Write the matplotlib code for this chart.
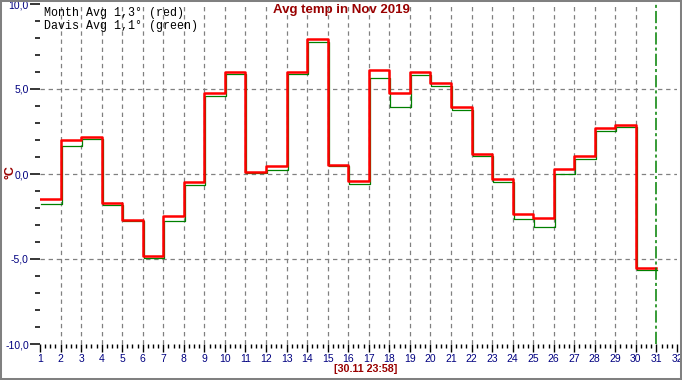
import matplotlib
matplotlib.use('Agg')
import matplotlib.pyplot as plt
from matplotlib import font_manager, ticker
from matplotlib.patches import Rectangle
from matplotlib.transforms import ScaledTranslation

# ---- data ----
days = list(range(1, 31))
month_avg = [-1.45, 2.0, 2.2, -1.73, -2.69, -4.8, -2.49, -0.47, 4.78, 6.02,
             0.13, 0.45, 6.02, 7.95, 0.55, -0.39, 6.12, 4.74, 6.0, 5.37,
             3.97, 1.19, -0.32, -2.37, -2.61, 0.27, 1.08, 2.7, 2.88, -5.5]
davis_avg = [-1.65, 1.75, 2.15, -1.75, -2.7, -4.85, -2.65, -0.58, 4.65, 5.96,
             0.13, 0.32, 5.96, 7.86, 0.58, -0.52, 5.73, 4.05, 5.94, 5.29,
             3.86, 1.12, -0.4, -2.58, -3.0, 0.1, 0.98, 2.64, 2.84, -5.55]
title = "Avg temp in Nov 2019"
legend_lines = ["Month Avg 1,3° (red)", "Davis Avg 1,1° (green)"]
stamp = "[30.11 23:58]"
unit = "°C"
x_ticks = list(range(1, 33))
y_major = [-10, -5, 0, 5, 10]
y_grid = [-5, 0, 5]
now_day = 31

names = {f.name for f in font_manager.fontManager.ttflist}
narrow = 'Liberation Sans Narrow' if 'Liberation Sans Narrow' in names else 'Liberation Sans'

W, H = 682, 380
fig = plt.figure(figsize=(W / 100, H / 100), dpi=100)
fig.patch.set_facecolor('white')
ax = fig.add_axes([40 / W, 1 - 344 / H, 637 / W, 340 / H])

xs = days + [days[-1] + 1]
green_shift = ax.transData + ScaledTranslation(1.0 / 100, -1.5 / 100, fig.dpi_scale_trans)
ax.plot(xs, davis_avg + [davis_avg[-1]], drawstyle='steps-post', color='#008000',
        lw=0.9, zorder=3, transform=green_shift)
ax.plot(xs, month_avg + [month_avg[-1]], drawstyle='steps-post', color='#ff0000',
        lw=1.8, zorder=4)

ax.set_xlim(1, 32)
ax.set_ylim(-10, 10)

for d in x_ticks[1:-2]:
    ax.axvline(d, color='#808080', lw=0.9, dashes=(3.5, 3), zorder=1)
for v in y_grid:
    ax.axhline(v, color='#808080', lw=0.9, dashes=(3.5, 3), zorder=1)
ax.axvline(now_day, color='#008000', lw=1.1, dashes=(8, 2, 2, 2), zorder=5)

for s in ax.spines.values():
    s.set_visible(False)

ax.set_xticks(x_ticks)
ax.xaxis.set_minor_locator(ticker.MultipleLocator(0.25))
ax.set_yticks(y_major)
ax.yaxis.set_minor_locator(ticker.MultipleLocator(1))
ax.yaxis.set_major_formatter(ticker.FuncFormatter(lambda v, p: f"{v:.1f}".replace('.', ',')))

ax.tick_params(axis='x', which='major', direction='out', length=5.8, width=1.0,
               color='black', labelcolor='#000080', labelsize=7.5, pad=1.5)
ax.tick_params(axis='x', which='minor', direction='out', length=2.6, width=1.0, color='black')
ax.tick_params(axis='y', which='major', direction='out', length=7.2, width=1.1,
               color='black', labelcolor='#000080', labelsize=7.5, pad=0.8)
ax.tick_params(axis='y', which='minor', direction='out', length=3.4, width=1.1, color='black')
for lab in ax.get_xticklabels() + ax.get_yticklabels():
    lab.set_fontfamily(narrow)

fig.text(44 / W, 1 - 13 / H, legend_lines[0], family='Liberation Mono', fontsize=8.4,
         va='center', ha='left', color='black')
fig.text(44 / W, 1 - 26 / H, legend_lines[1], family='Liberation Mono', fontsize=8.4,
         va='center', ha='left', color='black')
fig.text(341 / W, 1 - 10 / H, title, family='Liberation Sans', fontsize=9.5,
         weight='bold', color='#990000', ha='center', va='center')
fig.text(366 / W, 1 - 369 / H, stamp, family='Liberation Sans', fontsize=7.7,
         weight='bold', color='#990000', ha='center', va='center')
fig.text(10 / W, 1 - 172 / H, unit, family='Liberation Sans', fontsize=9,
         weight='bold', color='#990000', ha='center', va='center', rotation=90)

fig.add_artist(Rectangle((0, 0), 1, 1, transform=fig.transFigure, fill=False,
                         edgecolor='#808080', lw=2.9))

fig.savefig('out.png', dpi=100)
